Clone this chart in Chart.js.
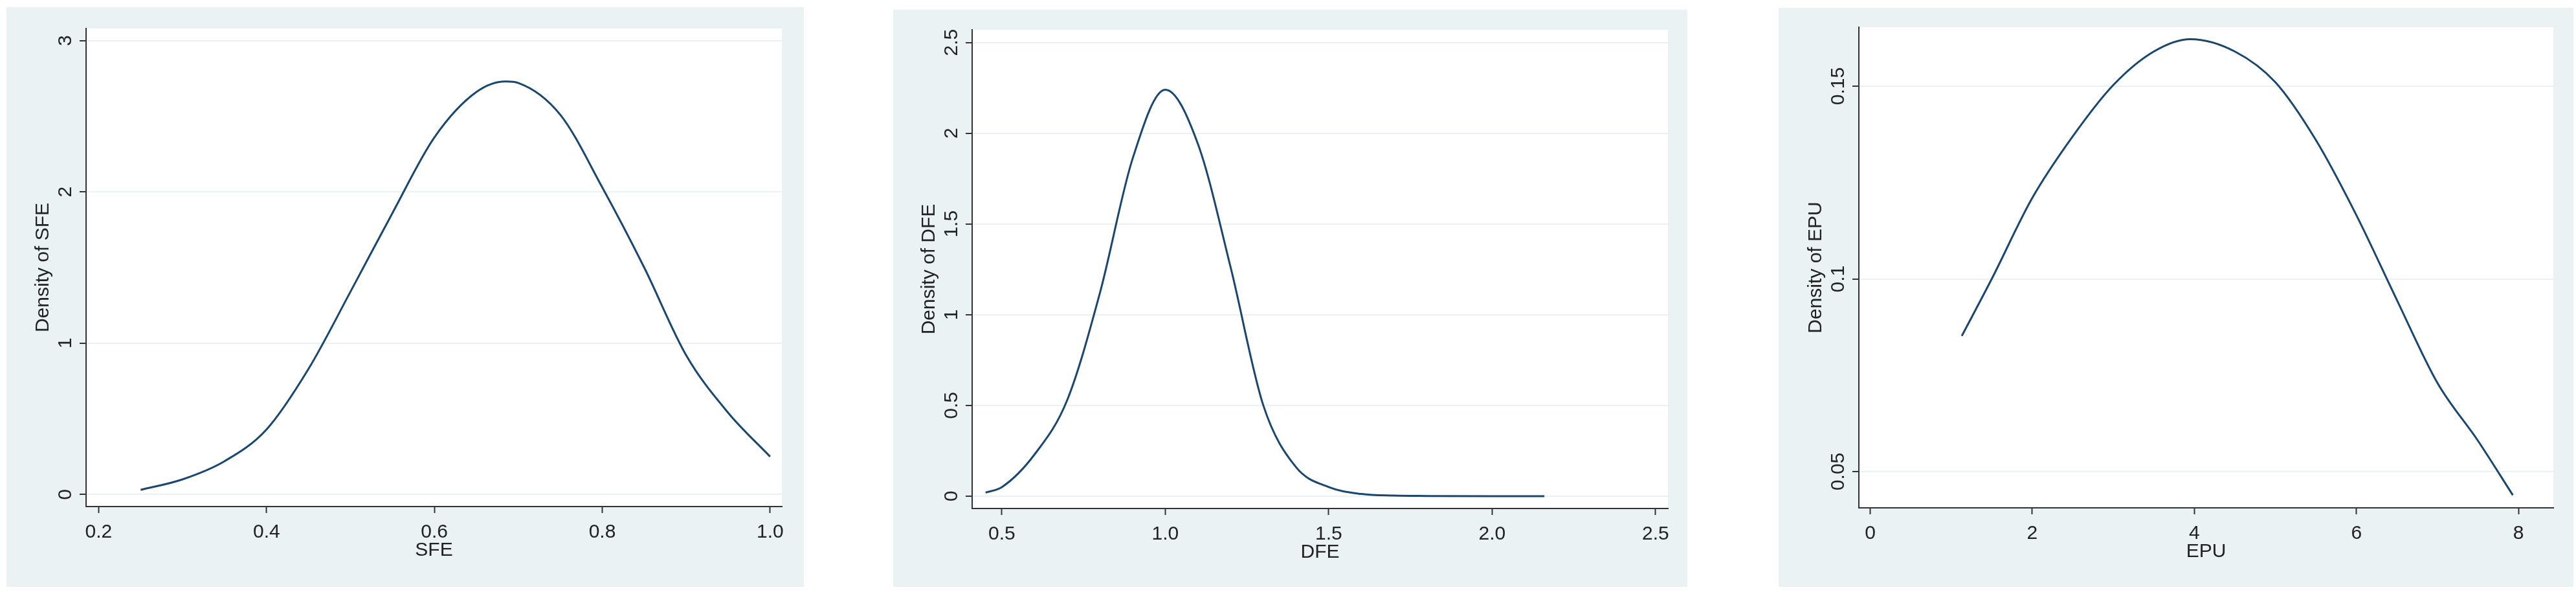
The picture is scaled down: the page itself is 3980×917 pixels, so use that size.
<!DOCTYPE html>
<html><head><meta charset="utf-8">
<script src="https://cdn.jsdelivr.net/npm/chart.js@4"></script>
<style>
body{margin:0;width:3980px;height:917px;background:#fff;position:relative;overflow:hidden}
.box{position:absolute;background:#eaf2f3}
canvas{display:block}
</style></head><body>
<div class="box" id="b1" style="left:10px;top:11px;width:1232px;height:895px"><canvas id="c1"></canvas></div>
<div class="box" id="b2" style="left:1380px;top:15px;width:1227px;height:891px"><canvas id="c2"></canvas></div>
<div class="box" id="b3" style="left:2748px;top:12px;width:1228px;height:894px"><canvas id="c3"></canvas></div>
<script>
// SFE
const sfeX = [0.25,0.3,0.35,0.4,0.45,0.5,0.55,0.6,0.65,0.685,0.7,0.75,0.8,0.85,0.9,0.95,1.0];
const sfeY = [0.03,0.1,0.22,0.43,0.83,1.34,1.86,2.36,2.66,2.73,2.72,2.51,2.03,1.5,0.92,0.54,0.25];
const sfeXTicks = [0.2,0.4,0.6,0.8,1];
const sfeYTicks = [0,1,2,3];
// DFE
const dfeX = [0.45,0.5,0.6,0.7,0.8,0.9,1.0,1.1,1.2,1.3,1.4,1.5,1.6,1.7,1.8,2.0,2.16];
const dfeY = [0.02,0.05,0.23,0.53,1.12,1.86,2.24,1.94,1.26,0.5,0.16,0.05,0.012,0.003,0.001,0,0];
const dfeXTicks = [0.5,1,1.5,2,2.5];
const dfeYTicks = [0,0.5,1,1.5,2,2.5];
// EPU
const epuX = [1.13,1.5,2,2.5,3,3.5,3.95,4.5,5,5.5,6,6.5,7,7.5,7.93];
const epuY = [0.0852,0.1,0.121,0.137,0.1503,0.159,0.1622,0.159,0.151,0.136,0.1165,0.0945,0.073,0.058,0.0439];
const epuXTicks = [0,2,4,6,8];
const epuYTicks = [0.05,0.1,0.15];

const FONT = "'Liberation Sans', Arial, sans-serif";
const DARK = '#333333';

function make(id, xs, ys, xTicks, yTicks, xr, yr, xTitle, yTitle, pad){
  const data = xs.map((x,i)=>({x:x,y:ys[i]}));
  const plug = {
    id:'custom',
    beforeDraw(ch){
      const a=ch.chartArea, c=ch.ctx;
      c.save(); c.fillStyle='#ffffff'; c.fillRect(a.left,a.top,a.right-a.left,a.bottom-a.top); c.restore();
    },
    afterDraw(ch){
      const a=ch.chartArea, c=ch.ctx, ys=ch.scales.y;
      c.save(); c.fillStyle='#222'; c.font='30px '+FONT; c.textAlign='center'; c.textBaseline='middle';
      yTicks.forEach(v=>{
        const py=ys.getPixelForValue(v);
        c.save(); c.translate(a.left-31,py); c.rotate(-Math.PI/2); c.fillText(String(v),0,0); c.restore();
      });
      c.save(); c.translate(a.left-66,(a.top+a.bottom)/2); c.rotate(-Math.PI/2); c.fillText(yTitle,0,0); c.restore();
      c.fillText(xTitle,(a.left+a.right)/2,a.bottom+68);
      c.restore();
    }
  };
  new Chart(document.getElementById(id),{
    type:'scatter',
    data:{datasets:[{data:data,showLine:true,borderColor:'#1a476f',borderWidth:3,pointRadius:0,cubicInterpolationMode:'monotone',fill:false}]},
    options:{
      responsive:true,maintainAspectRatio:false,animation:false,
      layout:{padding:{top:pad[0],right:pad[1],left:0,bottom:0}},
      plugins:{legend:{display:false},tooltip:{enabled:false}},
      scales:{
        x:{type:'linear',min:xr[0],max:xr[1],
          afterBuildTicks:s=>{s.ticks=xTicks.map(v=>({value:v}));},
          afterFit:s=>{s.height=pad[3];},
          grid:{drawOnChartArea:false,drawTicks:true,tickLength:10,tickColor:DARK,tickWidth:2},
          border:{display:true,color:DARK,width:2},
          ticks:{font:{size:30,family:FONT},color:'#222',padding:12,maxRotation:0,autoSkip:false}},
        y:{type:'linear',min:yr[0],max:yr[1],
          afterBuildTicks:s=>{s.ticks=yTicks.map(v=>({value:v}));},
          afterFit:s=>{s.width=pad[2];},
          grid:{color:'#eaf2f3',lineWidth:2,drawTicks:true,tickLength:10,tickColor:DARK,tickWidth:2},
          border:{display:true,color:DARK,width:2},
          ticks:{display:false}}
      }
    },
    plugins:[plug]
  });
}
make('c1',sfeX,sfeY,sfeXTicks,sfeYTicks,[0.185,1.014],[-0.08,3.08],'SFE','Density of SFE',[33,34,123,124]);
make('c2',dfeX,dfeY,dfeXTicks,dfeYTicks,[0.409,2.538],[-0.068,2.57],'DFE','Density of DFE',[31,30,122,121]);
make('c3',epuX,epuY,epuXTicks,epuYTicks,[-0.14,8.43],[0.0406,0.1653],'EPU','Density of EPU',[30,31,124,122]);
</script>
</body></html>
